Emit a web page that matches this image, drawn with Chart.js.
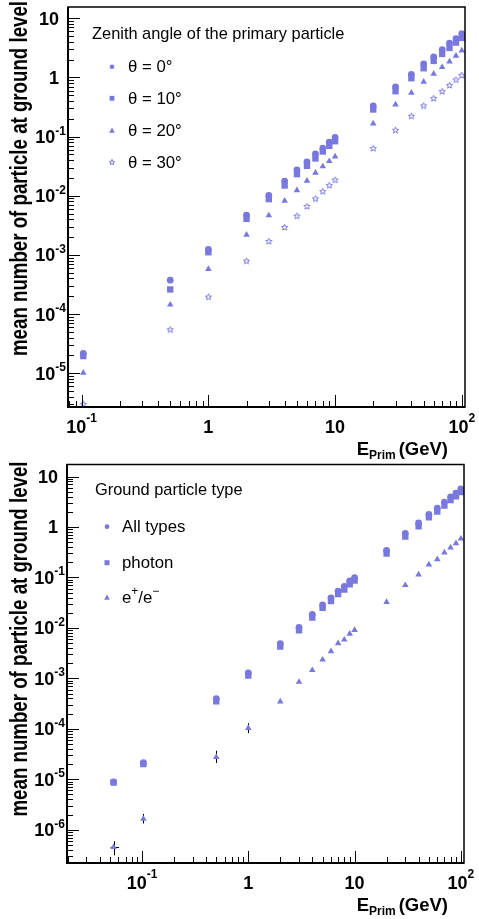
<!DOCTYPE html>
<html>
<head>
<meta charset="utf-8">
<script src="https://cdn.jsdelivr.net/npm/chart.js@4.4.0/dist/chart.umd.min.js"></script>
<style>
    html, body { margin: 0; padding: 0; background: #fff; }
    #wrap { position: relative; width: 479px; height: 919px; }
    .panel { position: absolute; left: 0; width: 479px; }
</style>
</head>
<body>
<div id="wrap">
    <div class="panel" style="top: 0;"><canvas id="zenithChart" width="479" height="460"></canvas></div>
    <div class="panel" style="top: 460px;"><canvas id="groundChart" width="479" height="459"></canvas></div>
</div>
<script>
const markerColor = 'rgb(120, 120, 222)';
const fontFamily = '"Liberation Sans", Arial, Helvetica, sans-serif';

// upper panel: zenith angle of the primary
const zenithEnergy = [0.103, 0.5, 1, 2, 3, 4, 5, 6, 7, 8, 9, 10, 20, 30, 40, 50, 60, 70, 80, 90, 100];
const theta0 = [2.17e-5, 3.75e-4, 1.24e-3, 4.70e-3, 1.01e-2, 1.77e-2, 2.74e-2, 3.74e-2, 5.10e-2, 6.37e-2, 8.04e-2, 9.66e-2, 0.330, 0.691, 1.13, 1.69, 2.22, 2.96, 3.78, 4.53, 5.51];
const theta10 = [1.95e-5, 2.61e-4, 1.11e-3, 4.07e-3, 8.77e-3, 1.49e-2, 2.32e-2, 3.20e-2, 4.27e-2, 5.60e-2, 6.97e-2, 8.36e-2, 0.287, 0.585, 0.969, 1.43, 1.90, 2.50, 3.15, 3.88, 4.65];
const theta20 = [1.02e-5, 1.44e-4, 5.75e-4, 2.19e-3, 4.65e-3, 8.2e-3, 1.24e-2, 1.79e-2, 2.44e-2, 3.13e-2, 3.84e-2, 4.61e-2, 0.166, 0.349, 0.548, 0.841, 1.15, 1.49, 1.86, 2.31, 2.85];
const theta30 = [3.0e-6, 5.43e-5, 1.94e-4, 7.86e-4, 1.69e-3, 2.91e-3, 4.52e-3, 6.59e-3, 8.87e-3, 1.18e-2, 1.49e-2, 1.84e-2, 6.29e-2, 0.128, 0.221, 0.330, 0.440, 0.577, 0.730, 0.908, 1.08];
const zenithLabels = ['θ = 0°', 'θ = 10°', 'θ = 20°', 'θ = 30°'];
const zenithTitle = 'Zenith angle of the primary particle';

// lower panel: ground particle type
const groundEnergy = [0.054, 0.103, 0.5, 1, 2, 3, 4, 5, 6, 7, 8, 9, 10, 20, 30, 40, 50, 60, 70, 80, 90, 100];
const allTypes = [8.85e-6, 2.13e-5, 3.97e-4, 1.28e-3, 4.85e-3, 1.02e-2, 1.85e-2, 2.86e-2, 3.94e-2, 5.33e-2, 6.61e-2, 8.53e-2, 9.95e-2, 0.345, 0.748, 1.20, 1.78, 2.36, 3.11, 3.96, 4.69, 5.70];
const photon = [8.6e-6, 2.0e-5, 3.52e-4, 1.13e-3, 4.24e-3, 8.9e-3, 1.61e-2, 2.50e-2, 3.39e-2, 4.66e-2, 5.77e-2, 7.34e-2, 8.69e-2, 0.297, 0.643, 1.03, 1.55, 2.03, 2.67, 3.40, 4.03, 4.90];
const electrons = [4.5e-7, 1.64e-6, 2.76e-5, 1.03e-4, 3.47e-4, 8.49e-4, 1.45e-3, 2.34e-3, 3.43e-3, 4.93e-3, 5.83e-3, 7.65e-3, 9.05e-3, 3.24e-2, 7.01e-2, 0.114, 0.180, 0.229, 0.310, 0.389, 0.474, 0.586];
const electronErrLow = [3.1e-7, 1.33e-6, 2.1e-5, 8.2e-5];
const electronErrHigh = [5.9e-7, 2.06e-6, 3.68e-5, 1.29e-4];
const electronErrELow = [0.0507];
const electronErrEHigh = [0.0608];
const groundLabels = ['All types', 'photon', 'e^+/e^−'];
const groundTitle = 'Ground particle type';

const xTickValues = [0.1, 1, 10, 100];
const xTickLabels = ['10^-1', '1', '10', '10^2'];
const zenithYTickValues = [1e-5, 1e-4, 1e-3, 1e-2, 1e-1, 1, 10];
const zenithYTickLabels = ['10^-5', '10^-4', '10^-3', '10^-2', '10^-1', '1', '10'];
const groundYTickValues = [1e-6, 1e-5, 1e-4, 1e-3, 1e-2, 1e-1, 1, 10];
const groundYTickLabels = ['10^-6', '10^-5', '10^-4', '10^-3', '10^-2', '10^-1', '1', '10'];

const yTitle = 'mean number of particle at ground level';

function starPath(ctx, x, y, r) {
    ctx.beginPath();
    for (let i = 0; i < 10; i++) {
        const rr = i % 2 === 0 ? r : r * 0.42;
        const a = -Math.PI / 2 + i * Math.PI / 5;
        const px = x + rr * Math.cos(a);
        const py = y + rr * Math.sin(a);
        if (i === 0) ctx.moveTo(px, py); else ctx.lineTo(px, py);
    }
    ctx.closePath();
}

function makeStar(size, r) {
    const c = document.createElement('canvas');
    c.width = size;
    c.height = size;
    const ctx = c.getContext('2d');
    ctx.strokeStyle = markerColor;
    ctx.lineWidth = 1;
    starPath(ctx, size / 2, size / 2, r);
    ctx.stroke();
    return c;
}

function drawMarker(ctx, style, x, y, r) {
    ctx.fillStyle = markerColor;
    ctx.strokeStyle = markerColor;
    ctx.beginPath();
    if (style === 'circle') {
        ctx.arc(x, y, r, 0, Math.PI * 2);
        ctx.fill();
    } else if (style === 'rect') {
        ctx.fillRect(x - r, y - r, 2 * r, 2 * r);
    } else if (style === 'triangle') {
        ctx.moveTo(x, y - r * 1.1);
        ctx.lineTo(x + r, y + r * 0.7);
        ctx.lineTo(x - r, y + r * 0.7);
        ctx.closePath();
        ctx.fill();
    } else {
        ctx.lineWidth = 1;
        starPath(ctx, x, y, r * 1.2);
        ctx.stroke();
    }
}

// draws "10^-1" style labels, base text + raised exponent
function powerLabel(ctx, label, x, y, mode, frameLeft) {
    const parts = label.split('^');
    const base = parts[0];
    const exp = parts[1] || '';
    ctx.font = 'bold 18px ' + fontFamily;
    const bw = ctx.measureText(base).width;
    ctx.font = 'bold 12px ' + fontFamily;
    const ew = exp ? ctx.measureText(exp).width : 0;
    let start, baseY, expY;
    if (mode === 'x') {
        start = x - (bw + ew) / 2;
        baseY = y + 26;
        expY = y + 14.5;
    } else {
        start = exp ? frameLeft - 2 - bw - ew : frameLeft - 9 - bw;
        baseY = y + 6.5;
        expY = y - 2;
    }
    ctx.textAlign = 'left';
    ctx.textBaseline = 'alphabetic';
    ctx.fillStyle = '#000';
    ctx.font = 'bold 18px ' + fontFamily;
    ctx.fillText(base, start, baseY);
    if (exp) {
        ctx.font = 'bold 12px ' + fontFamily;
        ctx.fillText(exp, start + bw, expY);
    }
}

function logTicks(min, max) {
    const out = [];
    for (let e = Math.floor(Math.log10(min)); e <= Math.ceil(Math.log10(max)); e++) {
        for (let k = 1; k <= 9; k++) {
            const v = k * Math.pow(10, e);
            if (v >= min && v <= max) out.push({ v: v, major: k === 1 });
        }
    }
    return out;
}

const rootAxes = {
    id: 'rootAxes',
    beforeDatasetsDraw(chart, args, opts) {
        if (!opts.errors) return;
        const ctx = chart.ctx;
        const x = chart.scales.x, y = chart.scales.y;
        const err = opts.errors;
        ctx.save();
        ctx.strokeStyle = '#000';
        ctx.lineWidth = 1;
        err.low.forEach((lo, i) => {
            const px = Math.round(x.getPixelForValue(err.energy[i])) + 0.5;
            ctx.beginPath();
            ctx.moveTo(px, y.getPixelForValue(lo));
            ctx.lineTo(px, y.getPixelForValue(err.high[i]));
            ctx.stroke();
        });
        err.eLow.forEach((lo, i) => {
            const py = Math.round(y.getPixelForValue(err.value[i])) + 0.5;
            ctx.beginPath();
            ctx.moveTo(x.getPixelForValue(lo), py);
            ctx.lineTo(x.getPixelForValue(err.eHigh[i]), py);
            ctx.stroke();
        });
        ctx.restore();
    },
    afterDraw(chart, args, opts) {
        const ctx = chart.ctx;
        const a = chart.chartArea;
        const xs = chart.scales.x, ys = chart.scales.y;
        ctx.save();

        // frame
        ctx.strokeStyle = '#000';
        ctx.lineWidth = 1.5;
        ctx.strokeRect(a.left, a.top, a.right - a.left, a.bottom - a.top);
        ctx.lineWidth = 2;
        ctx.beginPath();
        ctx.moveTo(a.left, a.top);
        ctx.lineTo(a.left, a.bottom);
        ctx.lineTo(a.right, a.bottom);
        ctx.stroke();

        // inside ticks
        ctx.lineWidth = 1;
        logTicks(xs.min, xs.max).forEach(t => {
            const px = Math.round(xs.getPixelForValue(t.v)) + 0.5;
            ctx.beginPath();
            ctx.moveTo(px, a.bottom);
            ctx.lineTo(px, a.bottom - (t.major ? 12 : 6));
            ctx.stroke();
        });
        logTicks(ys.min, ys.max).forEach(t => {
            const py = Math.round(ys.getPixelForValue(t.v)) + 0.5;
            ctx.beginPath();
            ctx.moveTo(a.left, py);
            ctx.lineTo(a.left + (t.major ? 12 : 6), py);
            ctx.stroke();
        });

        // tick labels
        opts.xTicks.forEach((v, i) => powerLabel(ctx, opts.xLabels[i], xs.getPixelForValue(v), a.bottom, 'x', a.left));
        opts.yTicks.forEach((v, i) => powerLabel(ctx, opts.yLabels[i], 0, ys.getPixelForValue(v), 'y', a.left));

        // x title: E_Prim (GeV)
        ctx.fillStyle = '#000';
        ctx.textBaseline = 'alphabetic';
        const tY = a.bottom + 47.5;
        ctx.font = 'bold 18.5px ' + fontFamily;
        ctx.textAlign = 'right';
        ctx.fillText('(GeV)', 448, tY);
        const gw = ctx.measureText('(GeV)').width;
        ctx.font = 'bold 12px ' + fontFamily;
        ctx.fillText('Prim', 448 - gw - 3, tY + 4);
        const pw = ctx.measureText('Prim').width;
        ctx.font = 'bold 18.5px ' + fontFamily;
        ctx.fillText('E', 448 - gw - 3 - pw, tY);

        // y title, tall glyphs squeezed along the axis
        ctx.save();
        ctx.font = 'bold 23px ' + fontFamily;
        const squeeze = 355 / ctx.measureText(yTitle).width;
        ctx.translate(26.5, opts.yTitleTop);
        ctx.rotate(-Math.PI / 2);
        ctx.scale(squeeze, 1);
        ctx.textAlign = 'right';
        ctx.fillText(yTitle, 0, 0);
        ctx.restore();

        // legend
        const lg = opts.legend;
        ctx.textAlign = 'left';
        ctx.textBaseline = 'alphabetic';
        ctx.font = '16.4px ' + fontFamily;
        ctx.fillStyle = '#000';
        ctx.fillText(lg.title, lg.titleX, lg.titleY);
        lg.items.forEach((item, i) => {
            const cy = lg.rows[i];
            drawMarker(ctx, item.style, lg.markerX, cy, item.size);
            ctx.fillStyle = '#000';
            ctx.textBaseline = 'middle';
            const pieces = item.text.split(/(\^.)/);
            let tx = lg.textX;
            pieces.forEach(p => {
                if (!p) return;
                if (p[0] === '^') {
                    ctx.font = '12px ' + fontFamily;
                    ctx.fillText(p.slice(1), tx, cy - 6);
                    tx += ctx.measureText(p.slice(1)).width;
                } else {
                    ctx.font = '16.8px ' + fontFamily;
                    ctx.fillText(p, tx, cy + 1);
                    tx += ctx.measureText(p).width;
                }
            });
        });
        ctx.restore();
    }
};

function points(energy, values) {
    return values.map((v, i) => ({ x: energy[i], y: v }));
}

function baseOptions(pad, xMin, xMax, yMin, yMax, extra) {
    return {
        responsive: false,
        animation: false,
        events: [],
        layout: { padding: pad },
        scales: {
            x: { type: 'logarithmic', min: xMin, max: xMax, display: false },
            y: { type: 'logarithmic', min: yMin, max: yMax, display: false }
        },
        plugins: {
            legend: { display: false },
            tooltip: { enabled: false },
            rootAxes: extra
        }
    };
}

let charts = {};

function initCharts() {
    const star = makeStar(9, 3.3);

    charts.zenith = new Chart(document.getElementById('zenithChart').getContext('2d'), {
        type: 'scatter',
        data: {
            datasets: [
                { label: zenithLabels[3], data: points(zenithEnergy, theta30), pointStyle: star, pointRadius: 4 },
                { label: zenithLabels[2], data: points(zenithEnergy, theta20), pointStyle: 'triangle', pointRadius: 3.8, backgroundColor: markerColor, borderWidth: 0 },
                { label: zenithLabels[1], data: points(zenithEnergy, theta10), pointStyle: 'rect', pointRadius: 4.5, backgroundColor: markerColor, borderWidth: 0 },
                { label: zenithLabels[0], data: points(zenithEnergy, theta0), pointStyle: 'circle', pointRadius: 3.4, backgroundColor: markerColor, borderWidth: 0 }
            ]
        },
        options: baseOptions({ left: 68, top: 7, right: 14, bottom: 53 }, 0.078, 106, 2.69e-6, 15.5, {
            xTicks: xTickValues, xLabels: xTickLabels,
            yTicks: zenithYTickValues, yLabels: zenithYTickLabels,
            yTitleTop: 1,
            legend: {
                title: zenithTitle, titleX: 92, titleY: 38.5,
                markerX: 112, textX: 128,
                rows: [66.7, 98.3, 130.7, 162.3],
                items: [
                    { style: 'circle', size: 2.3, text: zenithLabels[0] },
                    { style: 'rect', size: 2.4, text: zenithLabels[1] },
                    { style: 'triangle', size: 2.8, text: zenithLabels[2] },
                    { style: 'star', size: 2.4, text: zenithLabels[3] }
                ]
            }
        }),
        plugins: [rootAxes]
    });

    charts.ground = new Chart(document.getElementById('groundChart').getContext('2d'), {
        type: 'scatter',
        data: {
            datasets: [
                { label: groundLabels[2], data: points(groundEnergy, electrons), pointStyle: 'triangle', pointRadius: 3.8, backgroundColor: markerColor, borderWidth: 0 },
                { label: groundLabels[1], data: points(groundEnergy, photon), pointStyle: 'rect', pointRadius: 4.5, backgroundColor: markerColor, borderWidth: 0 },
                { label: groundLabels[0], data: points(groundEnergy, allTypes), pointStyle: 'circle', pointRadius: 3.4, backgroundColor: markerColor, borderWidth: 0 }
            ]
        },
        options: baseOptions({ left: 67, top: 4, right: 15, bottom: 56 }, 0.0197, 107, 2.19e-7, 17.3, {
            xTicks: xTickValues, xLabels: xTickLabels,
            yTicks: groundYTickValues, yLabels: groundYTickLabels,
            yTitleTop: 1.5,
            errors: {
                energy: groundEnergy, low: electronErrLow, high: electronErrHigh,
                value: electrons, eLow: electronErrELow, eHigh: electronErrEHigh
            },
            legend: {
                title: groundTitle, titleX: 95, titleY: 35,
                markerX: 107, textX: 122,
                rows: [66.7, 102.7, 137.7],
                items: [
                    { style: 'circle', size: 2.4, text: groundLabels[0] },
                    { style: 'rect', size: 2.5, text: groundLabels[1] },
                    { style: 'triangle', size: 2.8, text: groundLabels[2] }
                ]
            }
        }),
        plugins: [rootAxes]
    });
}

window.onload = function() {
    initCharts();
};
</script>
</body>
</html>
